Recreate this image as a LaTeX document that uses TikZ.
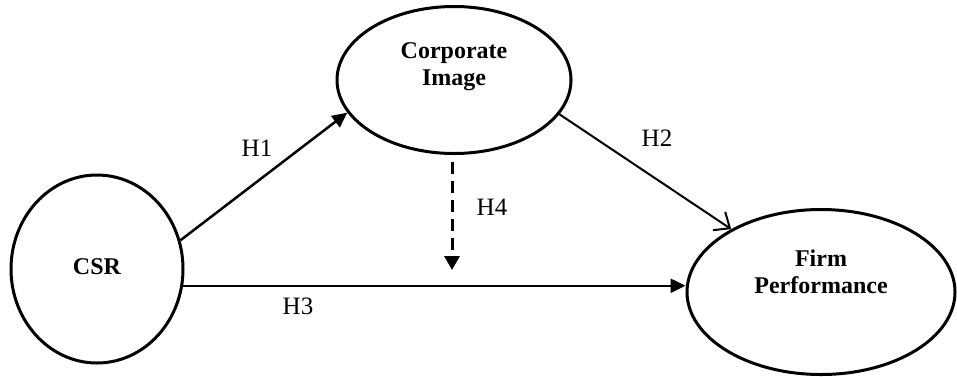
\documentclass[tikz,border=0pt]{standalone}
\usepackage{fontspec}
\setmainfont{Liberation Serif}
\usetikzlibrary{shapes.geometric,arrows.meta}
\begin{document}
\begin{tikzpicture}[x=1pt,y=-1pt,
  construct/.style={draw,line width=3pt,ellipse,inner sep=0pt},
  ctext/.style={font=\fontsize{24}{27}\selectfont\bfseries,align=center,inner sep=0pt},
  hlabel/.style={font=\fontsize{25}{28}\selectfont,inner sep=0pt},
  solidarrow/.style={line width=2.5pt,-{Triangle[length=15pt,width=14pt]}},
  openarrow/.style={line width=2pt,-{Straight Barb[length=13pt,width=22pt,line width=2pt]}},
  dasharrow/.style={line width=3pt,dash pattern=on 12pt off 7pt,-{Triangle[length=14pt,width=15pt]}}
]
\useasboundingbox (0,0) rectangle (957,376);
\node[construct,minimum width=172pt,minimum height=188pt] (csr) at (97,269) {};
\node[construct,minimum width=234pt,minimum height=147pt] (ci) at (454,80) {};
\node[construct,minimum width=268pt,minimum height=165pt] (fp) at (821,292) {};
\node[ctext] (csrt) at (97,267) {CSR};
\node[ctext] (cit) at (454,67) {Corporate\\Image};
\node[ctext] (fpt) at (821,272) {Firm\\Performance};
\coordinate (h4s) at (452,162);
\coordinate (h4e) at (452,270);
\draw[solidarrow] (csr.19.7) -- (ci.197.6);
\draw[solidarrow] (csr.-11) -- (csr.-11 -| fp.west);
\draw[openarrow] (ci.-18.6) -- (fp.145.7);
\draw[dasharrow] (h4s) -- (h4e);
\node[hlabel] (h1) at (257,148) {H1};
\node[hlabel] (h2) at (657,138) {H2};
\node[hlabel] (h3) at (298,306) {H3};
\node[hlabel] (h4) at (492,207) {H4};
\end{tikzpicture}
\end{document}
